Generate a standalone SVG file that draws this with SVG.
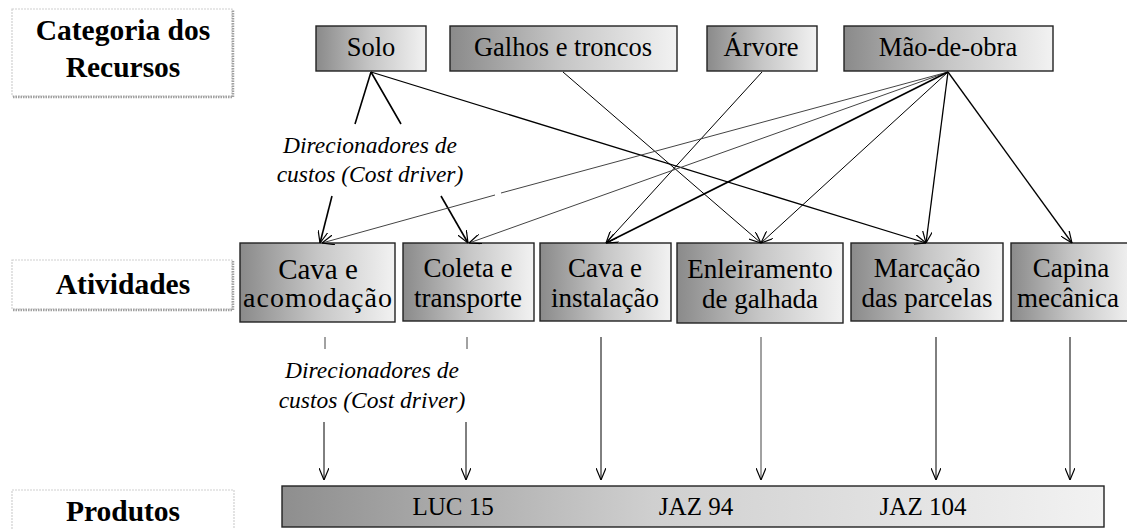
<svg xmlns="http://www.w3.org/2000/svg" width="1127" height="529" viewBox="0 0 1127 529">
<style>
.lbl{fill:#fff;stroke:#d0d0d0;stroke-width:1.2;stroke-dasharray:2 1}
.shd{fill:none;stroke:#a0a0a0;stroke-width:2.5;stroke-dasharray:1.5 1}
.box{stroke:#222;stroke-width:1.4}
text{font-family:"Liberation Serif","Times New Roman",serif;fill:#000;text-anchor:middle}
.h{font-weight:700;font-size:29.5px}
.t{font-size:26.5px}
.a{font-size:27px}
.i{font-style:italic;font-size:23.5px}
.p{font-size:25px}
.c{fill:none;stroke:#000;stroke-width:1}
.c2{fill:none;stroke:#000;stroke-width:1.6}
.g{fill:none;stroke:#444;stroke-width:1}
</style>
<defs>
<linearGradient id="gr" x1="0" y1="0" x2="1" y2="0">
<stop offset="0" stop-color="#8a8a8a"/>
<stop offset="0.5" stop-color="#c6c6c6"/>
<stop offset="1" stop-color="#f2f2f2"/>
</linearGradient>
<linearGradient id="gp" x1="0" y1="0" x2="1" y2="0">
<stop offset="0" stop-color="#8e8e8e"/>
<stop offset="0.45" stop-color="#cfcfcf"/>
<stop offset="1" stop-color="#f2f2f2"/>
</linearGradient>
<marker id="ar" viewBox="0 0 12 10" refX="12" refY="5" markerWidth="12" markerHeight="10" markerUnits="userSpaceOnUse" orient="auto">
<path d="M0,0 L12,5 L0,10" fill="none" stroke="#000" stroke-width="1.2"/>
</marker>
</defs>

<g id="label-categoria">
<rect class="lbl" x="12" y="9" width="220" height="87"/>
<path class="shd" d="M13,97 H233 V10"/>
<text class="h" x="123" y="40">Categoria dos</text>
<text class="h" x="123" y="77">Recursos</text>
</g>
<g id="label-atividades">
<rect class="lbl" x="12" y="260" width="220" height="49"/>
<path class="shd" d="M13,310 H233 V261"/>
<text class="h" x="123" y="294">Atividades</text>
</g>
<g id="label-produtos">
<rect class="lbl" x="12" y="490" width="222" height="45"/>
<text class="h" x="123" y="521">Produtos</text>
</g>

<g id="solo"><rect class="box" x="316" y="26" width="110" height="45" fill="url(#gr)"/><text class="t" x="371" y="56">Solo</text></g>
<g id="galhos"><rect class="box" x="450" y="26" width="227" height="45" fill="url(#gr)"/><text class="t" x="563" y="56">Galhos e troncos</text></g>
<g id="arvore"><rect class="box" x="707" y="26" width="110" height="45" fill="url(#gr)"/><text class="t" x="761" y="56">Árvore</text></g>
<g id="maodeobra"><rect class="box" x="844" y="26" width="209" height="45" fill="url(#gr)"/><text class="t" x="948" y="56">Mão-de-obra</text></g>

<g id="cost-driver-1">
<text class="i" x="370" y="153">Direcionadores de</text>
<text class="i" x="370" y="182">custos (Cost driver)</text>
</g>

<g id="cava-acomodacao"><rect class="box" x="240" y="243" width="155" height="79" fill="url(#gr)"/><text class="a" x="318" y="279" style="font-size:29px">Cava e</text><text class="a" x="318" y="307" style="font-size:28px;letter-spacing:1px">acomodação</text></g>
<g id="coleta-transporte"><rect class="box" x="403" y="243" width="131" height="78" fill="url(#gr)"/><text class="a" x="468" y="277">Coleta e</text><text class="a" x="468" y="307">transporte</text></g>
<g id="cava-instalacao"><rect class="box" x="540" y="243" width="131" height="78" fill="url(#gr)"/><text class="a" x="605" y="277">Cava e</text><text class="a" x="605" y="307">instalação</text></g>
<g id="enleiramento"><rect class="box" x="677" y="243" width="166" height="80" fill="url(#gr)"/><text class="a" x="760" y="278">Enleiramento</text><text class="a" x="760" y="308">de galhada</text></g>
<g id="marcacao"><rect class="box" x="851" y="243" width="152" height="78" fill="url(#gr)"/><text class="a" x="927" y="277">Marcação</text><text class="a" x="927" y="307">das parcelas</text></g>
<g id="capina"><rect class="box" x="1011" y="243" width="122" height="78" fill="url(#gr)"/><text class="a" x="1071" y="277">Capina</text><text class="a" x="1068" y="307">mecânica</text></g>

<g id="cost-driver-2">
<text class="i" x="372" y="378">Direcionadores de</text>
<text class="i" x="372" y="408">custos (Cost driver)</text>
</g>

<g id="produtos"><rect class="box" x="282" y="486" width="822" height="41" fill="url(#gp)"/>
<text class="p" x="453" y="515">LUC 15</text>
<text class="p" x="696" y="515">JAZ 94</text>
<text class="p" x="923" y="515">JAZ 104</text>
</g>

<g id="connectors">
<path class="c2" d="M371,72 L355,124 M371,72 L401,124"/>
<path class="c2" d="M332,196 L320,243" marker-end="url(#ar)"/>
<path class="c2" d="M441,196 L468,243" marker-end="url(#ar)"/>
<path class="c" d="M371,72 L926,243" marker-end="url(#ar)" style="stroke-width:1.3"/>
<path class="c" d="M563,72 L761,243" marker-end="url(#ar)"/>
<path class="c" d="M762,72 L606,243" marker-end="url(#ar)"/>
<path class="g" d="M948,72 L501,193"/>
<path class="g" d="M495,195 L322,243" marker-end="url(#ar)"/>
<path class="g" d="M948,72 L469,243" marker-end="url(#ar)"/>
<path class="c2" d="M948,72 L606,243" marker-end="url(#ar)"/>
<path class="c" d="M948,72 L761,243" marker-end="url(#ar)"/>
<path class="c" d="M948,72 L926,243" marker-end="url(#ar)" style="stroke-width:1.3"/>
<path class="c" d="M948,72 L1072,243" marker-end="url(#ar)" style="stroke-width:1.3"/>
<path class="g" d="M325,337 V349 M467,337 V349"/>
<path class="c" d="M324,422 V480" marker-end="url(#ar)"/>
<path class="c" d="M466,422 V480" marker-end="url(#ar)"/>
<path class="c" d="M601,337 V480" marker-end="url(#ar)"/>
<path class="g" d="M761,337 V480" marker-end="url(#ar)"/>
<path class="c" d="M936,337 V480" marker-end="url(#ar)"/>
<path class="c" d="M1070,337 V480" marker-end="url(#ar)"/>
</g>
</svg>
